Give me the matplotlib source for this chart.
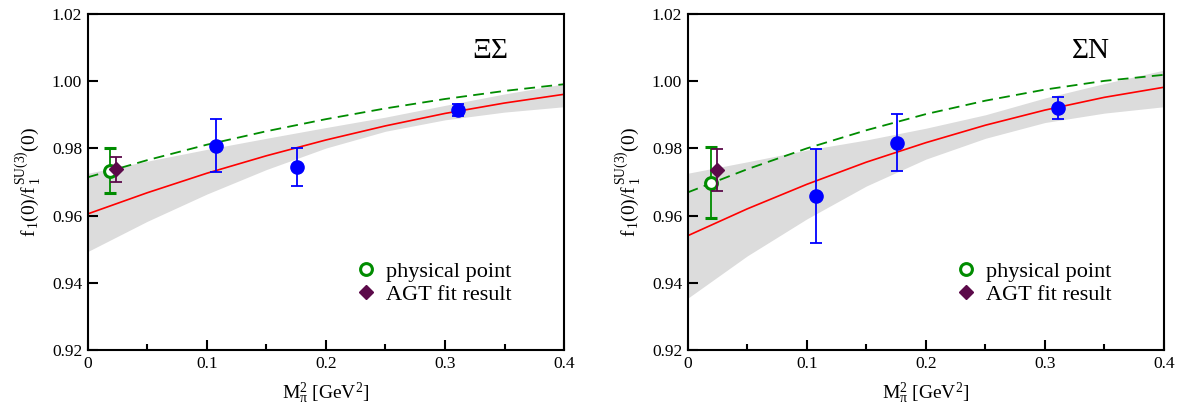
import matplotlib
matplotlib.use("Agg")
import matplotlib.pyplot as plt
from matplotlib.lines import Line2D

plt.rcParams['font.family'] = ['Liberation Serif', 'DejaVu Serif']
plt.rcParams['mathtext.fontset'] = 'custom'
plt.rcParams['mathtext.rm'] = 'Liberation Serif'
plt.rcParams['mathtext.it'] = 'Liberation Serif:italic'

# ---------------- data ----------------
curve_x = [0.0, 0.05, 0.1, 0.15, 0.2, 0.25, 0.3, 0.35, 0.4]

# Xi-Sigma panel
xs_red = [0.9605, 0.9668, 0.9726, 0.9778, 0.9825, 0.9867, 0.9904, 0.9935, 0.9961]
xs_green = [0.9714, 0.9765, 0.9811, 0.9851, 0.9887, 0.9919, 0.9947, 0.9971, 0.9991]
xs_band_lo = [0.9493, 0.9583, 0.9664, 0.9737, 0.9801, 0.9851, 0.9885, 0.9908, 0.9924]
xs_band_hi = [0.9726, 0.9762, 0.9797, 0.9830, 0.9862, 0.9893, 0.9928, 0.9962, 0.9992]
xs_lat_x = [0.108, 0.176, 0.311]
xs_lat_y = [0.9808, 0.9744, 0.9914]
xs_lat_err = [0.0079, 0.0057, 0.0018]
xs_phys = (0.019, 0.9734, 0.0066)
xs_agt = (0.024, 0.9738, 0.0037)

# Sigma-N panel
sn_red = [0.9540, 0.9620, 0.9693, 0.9759, 0.9817, 0.9869, 0.9914, 0.9952, 0.9982]
sn_green = [0.9669, 0.9738, 0.9800, 0.9854, 0.9902, 0.9942, 0.9975, 1.0001, 1.0019]
sn_band_lo = [0.9354, 0.9480, 0.9590, 0.9688, 0.9768, 0.9830, 0.9877, 0.9905, 0.9924]
sn_band_hi = [0.9726, 0.9760, 0.9795, 0.9825, 0.9860, 0.9900, 0.9950, 0.9993, 1.0033]
sn_lat_x = [0.108, 0.176, 0.311]
sn_lat_y = [0.9658, 0.9817, 0.9919]
sn_lat_err = [0.0139, 0.0084, 0.0033]
sn_phys = (0.0193, 0.9698, 0.0105)
sn_agt = (0.0243, 0.9736, 0.0063)

titles = [r'$\Xi\Sigma$', r'$\Sigma$N']
xticks = [0, 0.1, 0.2, 0.3, 0.4]
xticklabels = ['0', '0.1', '0.2', '0.3', '0.4']
yticks = [0.92, 0.94, 0.96, 0.98, 1.00, 1.02]
yticklabels = ['0.92', '0.94', '0.96', '0.98', '1.00', '1.02']
legend_labels = ['physical point', 'AGT fit result']

panels = [
    (xs_red, xs_green, xs_band_lo, xs_band_hi, xs_lat_x, xs_lat_y, xs_lat_err, xs_phys, xs_agt),
    (sn_red, sn_green, sn_band_lo, sn_band_hi, sn_lat_x, sn_lat_y, sn_lat_err, sn_phys, sn_agt),
]

fig = plt.figure(figsize=(11.81, 4.08), dpi=100)
lefts = [0.0743, 0.5823]

GREEN = '#008c00'
PURPLE = '#5c0a4a'

for i, (red, green, blo, bhi, lx, ly, le, phys, agt) in enumerate(panels):
    ax = fig.add_axes([lefts[i], 0.1422, 0.4033, 0.8235])
    ax.fill_between(curve_x, blo, bhi, color='#dcdcdc', lw=0, zorder=1)
    ax.plot(curve_x, red, color='red', lw=1.2, zorder=2)
    ax.plot(curve_x, green, color=GREEN, lw=1.3, ls=(0, (6, 3.5)), zorder=2)
    ax.errorbar(lx, ly, yerr=le, fmt='o', color='blue', ms=9.5, elinewidth=1.3,
                capsize=4, capthick=1.3, zorder=5)
    ax.errorbar([phys[0]], [phys[1]], yerr=[phys[2]], fmt='o', mfc='white', mec=GREEN,
                mew=2.2, color=GREEN, ms=8.5, elinewidth=1.3, capsize=4, capthick=1.3, zorder=4)
    ax.errorbar([agt[0]], [agt[1]], yerr=[agt[2]], fmt='D', color=PURPLE, ms=7,
                elinewidth=1.3, capsize=4, capthick=1.3, zorder=6)

    ax.set_xlim(0, 0.4)
    ax.set_ylim(0.92, 1.02)
    ax.set_xticks(xticks)
    ax.set_xticklabels(xticklabels)
    ax.set_xticks([0.05, 0.15, 0.25, 0.35], minor=True)
    ax.set_yticks(yticks)
    ax.set_yticklabels(yticklabels)
    ax.tick_params(axis='both', which='major', direction='in', length=7, width=1.5,
                   labelsize=12.5, pad=4)
    ax.tick_params(axis='both', which='minor', direction='in', length=4, width=1.5)
    for s in ax.spines.values():
        s.set_linewidth(1.5)
    ax.set_ylabel(r'$\mathrm{f_{\,1}(0)/f_{\,1}^{\,SU(3)}(0)}$', fontsize=14, labelpad=6)
    ax.set_xlabel(r'$\mathrm{M_{\pi}^{2}}$ [GeV$^2$]', fontsize=14, labelpad=6)
    ax.text(0.845, 0.89, titles[i], transform=ax.transAxes, fontsize=21,
            ha='center', va='center')

    handles = [
        Line2D([], [], ls='none', marker='o', mfc='white', mec=GREEN, mew=2.2, ms=8.5),
        Line2D([], [], ls='none', marker='D', color=PURPLE, ms=7),
    ]
    ax.legend(handles, legend_labels, loc='center left',
              bbox_to_anchor=(0.56, 0.199), frameon=False, fontsize=16,
              handlelength=1.0, handletextpad=0.4, labelspacing=0.1,
              borderpad=0, borderaxespad=0)

fig.savefig('out.png', dpi=100)
